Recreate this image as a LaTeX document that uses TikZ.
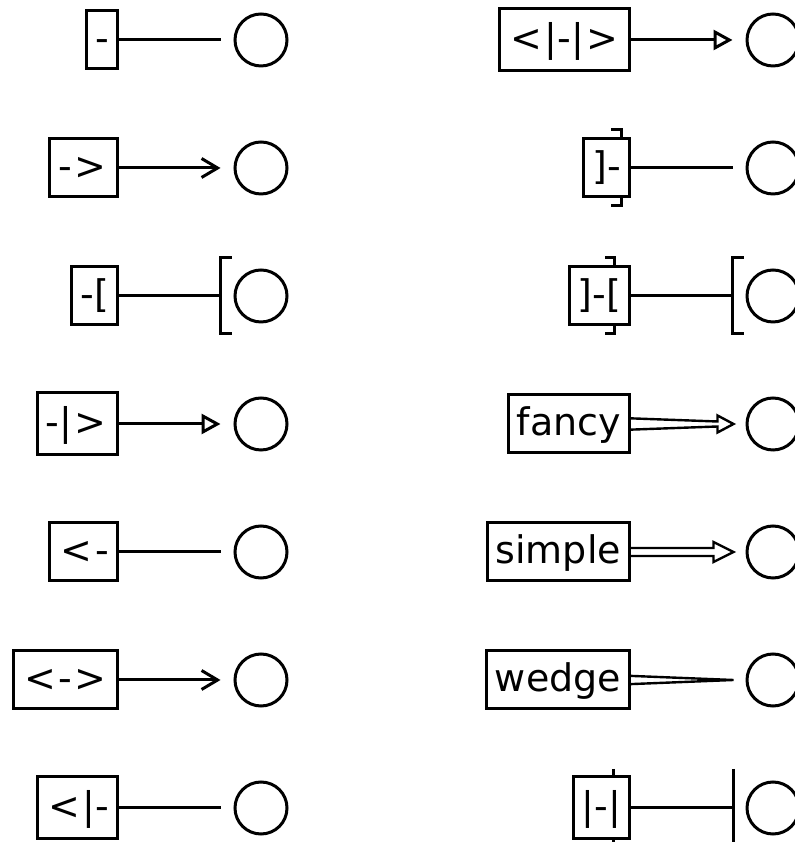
\documentclass[tikz,border=0pt]{standalone}
\usepackage{fontspec}
\setmainfont{DejaVu Sans}
\usetikzlibrary{arrows.meta, calc, backgrounds}
\newcommand{\lsym}{\kern2.5pt<\kern2.5pt}
\newcommand{\gsym}{\kern2.5pt>\kern2.5pt}
\tikzset{
	lbl/.style  ={rectangle, draw=black, line width=3pt, fill=white, inner xsep=8.5pt, inner ysep=0pt, minimum height=58pt, text height=31pt, text depth=7pt, font=\fontsize{38}{40}\selectfont},
	tall/.style ={minimum height=62pt},
	circ/.style ={circle, draw=black, line width=3pt, minimum size=52pt, inner sep=0pt},
	sig/.style  ={line width=3pt, shorten >=13pt},
	tick/.style ={line width=3pt},
	outl/.style ={line width=2.4pt, line join=miter},
	barb/.style ={-{Straight Barb[length=16pt, width=19pt]}},
	tri/.style  ={-{Triangle[open, length=19pt, width=20pt]}},
}
\begin{document}
\begin{tikzpicture}[x=1pt, y=1pt]
	\useasboundingbox (0,0) rectangle (794,842);
	% left column
	\node[lbl, anchor=east] (lbox1) at (119,802) {-};
	\node[lbl, anchor=east] (lbox2) at (119,674) {-\gsym};
	\node[lbl, anchor=east] (lbox3) at (119,546) {-[};
	\node[lbl, tall, anchor=east] (lbox4) at (119,418) {-|\gsym};
	\node[lbl, anchor=east] (lbox5) at (119,290) {\lsym-};
	\node[lbl, anchor=east] (lbox6) at (119,162) {\lsym-\gsym};
	\node[lbl, tall, anchor=east] (lbox7) at (119,34) {\lsym|-};
	\node[circ] (lcirc1) at (261,802) {}; \node[circ] (lcirc2) at (261,674) {};
	\node[circ] (lcirc3) at (261,546) {}; \node[circ] (lcirc4) at (261,418) {};
	\node[circ] (lcirc5) at (261,290) {}; \node[circ] (lcirc6) at (261,162) {};
	\node[circ] (lcirc7) at (261,34) {};
	% right column
	\node[lbl, tall, anchor=east] (rbox1) at (631,802) {\lsym|-|\gsym};
	\node[lbl, anchor=east] (rbox2) at (631,674) {]-};
	\node[lbl, anchor=east] (rbox3) at (631,546) {]-[};
	\node[lbl, anchor=east] (rbox4) at (631,418) {fancy};
	\node[lbl, anchor=east] (rbox5) at (631,290) {simple};
	\node[lbl, anchor=east] (rbox6) at (631,162) {wedge};
	\node[lbl, tall, anchor=east] (rbox7) at (631,34) {|-|};
	\node[circ] (rcirc1) at (773,802) {}; \node[circ] (rcirc2) at (773,674) {};
	\node[circ] (rcirc3) at (773,546) {}; \node[circ] (rcirc4) at (773,418) {};
	\node[circ] (rcirc5) at (773,290) {}; \node[circ] (rcirc6) at (773,162) {};
	\node[circ] (rcirc7) at (773,34) {};
	\coordinate (fe) at ($(rcirc4.west)+(-12,0)$);
	\coordinate (se) at ($(rcirc5.west)+(-12,0)$);
	\coordinate (we) at ($(rcirc6.west)+(-12,0)$);
	\begin{scope}[on background layer]
		\draw[sig] (lbox1) -- (lcirc1); \draw[sig, barb] (lbox2) -- (lcirc2);
		\draw[sig] (lbox3) -- (lcirc3); \draw[sig, tri] (lbox4) -- (lcirc4);
		\draw[sig] (lbox5) -- (lcirc5); \draw[sig, barb] (lbox6) -- (lcirc6);
		\draw[sig] (lbox7) -- (lcirc7);
		\draw[tick] ($(lcirc3.west)+(-2,38)$) -- ++(-11,0) -- ++(0,-76) -- ++(11,0);
		\draw[sig, tri] (rbox1) -- (rcirc1); \draw[sig] (rbox2) -- (rcirc2);
		\draw[sig] (rbox3) -- (rcirc3); \draw[sig] (rbox7) -- (rcirc7);
		\draw[tick] ($(rbox2.east)+(-20,38)$) -- ++(10,0) -- ++(0,-76) -- ++(-10,0);
		\draw[tick] ($(rbox3.east)+(-26,38)$) -- ++(9,0) -- ++(0,-76) -- ++(-9,0);
		\draw[tick] ($(rcirc3.west)+(-2,38)$) -- ++(-11,0) -- ++(0,-76) -- ++(11,0);
		\draw[tick] ($(rbox7.east)+(-18,39)$) -- ++(0,-78);
		\draw[tick] ($(rcirc7.west)+(-12,39)$) -- ++(0,-78);
		% fancy, simple, wedge
		\draw[outl] ($(rbox4.east)+(-10,6)$) -- ($(fe)+(-16,2.5)$) -- ($(fe)+(-16,8.5)$) -- (fe) -- ($(fe)+(-16,-8.5)$) -- ($(fe)+(-16,-2.5)$) -- ($(rbox4.east)+(-10,-6)$) -- cycle;
		\draw[outl] ($(rbox5.east)+(-10,4)$) -- ($(se)+(-20,4)$) -- ($(se)+(-20,10)$) -- (se) -- ($(se)+(-20,-10)$) -- ($(se)+(-20,-4)$) -- ($(rbox5.east)+(-10,-4)$) -- cycle;
		\draw[outl] ($(rbox6.east)+(-10,4.5)$) -- (we) -- ($(rbox6.east)+(-10,-4.5)$) -- cycle;
	\end{scope}
\end{tikzpicture}
\end{document}
